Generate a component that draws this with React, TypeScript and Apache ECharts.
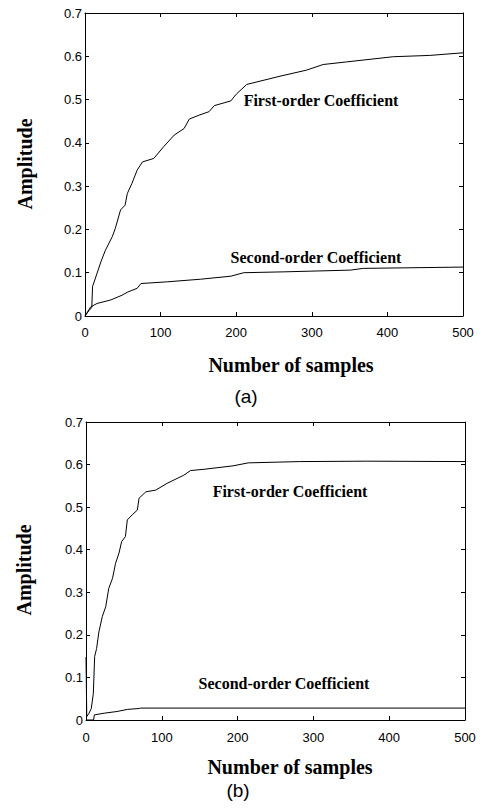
import React, { useEffect, useRef } from "react";
import * as echarts from "echarts";

// Sample index ticks and amplitude ticks shared by both panels
const sampleTicks = [0, 100, 200, 300, 400, 500];
const amplitudeTicks = [0, 0.1, 0.2, 0.3, 0.4, 0.5, 0.6, 0.7];

// Panel (a): coefficient amplitude vs. number of samples
const firstOrderA: [number, number][] = [
  [0, 0], [5, 0.012], [9, 0.02], [10, 0.068], [16, 0.099], [21, 0.125], [27, 0.152],
  [36, 0.183], [40, 0.202], [47, 0.245], [53, 0.256], [56, 0.283], [62, 0.306],
  [69, 0.337], [76, 0.356], [91, 0.364], [104, 0.391], [118, 0.418], [131, 0.433],
  [138, 0.455], [151, 0.464], [164, 0.472], [171, 0.486], [193, 0.497], [197, 0.506],
  [201, 0.514], [214, 0.535], [258, 0.554], [293, 0.568], [315, 0.581], [346, 0.587],
  [408, 0.599], [456, 0.602], [500, 0.608],
];
const secondOrderA: [number, number][] = [
  [0, 0], [7.5, 0.021], [16, 0.029], [34, 0.037], [49, 0.048], [56, 0.055], [69, 0.064],
  [74, 0.075], [109, 0.079], [153, 0.085], [193, 0.092], [210, 0.1], [263, 0.102],
  [351, 0.106], [368, 0.11], [500, 0.113],
];

// Panel (b): coefficient amplitude vs. number of samples
const firstOrderB: [number, number][] = [
  [0, 0.148], [1, 0.008], [4, 0.016], [7, 0.027], [9.7, 0.063], [11.4, 0.149], [14, 0.168],
  [17, 0.207], [21.5, 0.243], [26, 0.266], [30, 0.309], [35, 0.333], [39, 0.368],
  [43.5, 0.392], [47, 0.419], [52, 0.431], [54.5, 0.47], [61, 0.482], [67.7, 0.493],
  [70, 0.521], [79, 0.536], [92, 0.54], [107, 0.556], [129, 0.575], [138, 0.586],
  [156, 0.589], [194, 0.597], [214, 0.604], [282, 0.607], [370, 0.608], [500, 0.607],
];
const secondOrderB: [number, number][] = [
  [0, 0], [10, 0], [11, 0.012], [24, 0.016], [41, 0.02], [55, 0.025], [70, 0.027],
  [72, 0.028], [500, 0.028],
];

const seriesNames = ["First-order Coefficient", "Second-order Coefficient"];
const xTitle = "Number of samples";
const yTitle = "Amplitude";
const panelTags = ["(a)", "(b)"];

const SANS = "'Liberation Sans', Arial, sans-serif";
const SERIF = "'Liberation Serif', 'Times New Roman', serif";

export default function App() {
  const ref = useRef<HTMLDivElement>(null);

  useEffect(() => {
    if (!ref.current) return;
    const chart = echarts.init(ref.current, undefined, { renderer: "svg" });

    const xMin = sampleTicks[0];
    const xMax = sampleTicks[sampleTicks.length - 1];
    const xStep = sampleTicks[1] - sampleTicks[0];
    const yMin = amplitudeTicks[0];
    const yMax = amplitudeTicks[amplitudeTicks.length - 1];
    const yStep = 0.1;

    const tick = { show: true, inside: true, length: 4, lineStyle: { color: "#000", width: 1 } };
    const line = { show: true, onZero: false, lineStyle: { color: "#000", width: 1 } };

    const xAxes: any[] = [];
    const yAxes: any[] = [];
    [0, 1].forEach((g) => {
      xAxes.push({
        type: "value", gridIndex: g, position: "bottom", min: xMin, max: xMax, interval: xStep,
        axisLine: line, axisTick: tick, splitLine: { show: false },
        axisLabel: { color: "#000", fontFamily: SANS, fontSize: 13, margin: g === 0 ? 10 : 11 },
      });
      xAxes.push({
        type: "value", gridIndex: g, position: "top", min: xMin, max: xMax, interval: xStep,
        axisLine: line, axisTick: tick, splitLine: { show: false }, axisLabel: { show: false },
      });
      yAxes.push({
        type: "value", gridIndex: g, position: "left", min: yMin, max: yMax, interval: yStep,
        axisLine: line, axisTick: tick, splitLine: { show: false },
        axisLabel: { color: "#000", fontFamily: SANS, fontSize: 13, margin: 3 },
      });
      yAxes.push({
        type: "value", gridIndex: g, position: "right", min: yMin, max: yMax, interval: yStep,
        axisLine: line, axisTick: tick, splitLine: { show: false }, axisLabel: { show: false },
      });
    });

    const mkLine = (name: string, data: [number, number][], axis: number) => ({
      name, type: "line", data, xAxisIndex: axis, yAxisIndex: axis,
      showSymbol: false, symbol: "none", lineStyle: { color: "#000", width: 1 },
      emphasis: { disabled: true },
    });

    const txt = (text: string, x: number, y: number, font: string, size: number, bold: boolean, rotation = 0) => ({
      type: "text", x, y, rotation,
      style: {
        text, fill: "#000", fontFamily: font, fontSize: size, fontWeight: bold ? "bold" : "normal",
        textAlign: "center", textVerticalAlign: "middle",
      },
    });

    chart.setOption({
      animation: false,
      backgroundColor: "#fff",
      grid: [
        { left: 85, top: 13, width: 378, height: 303 },
        { left: 86, top: 422, width: 379, height: 298 },
      ],
      xAxis: xAxes,
      yAxis: yAxes,
      series: [
        mkLine(seriesNames[0], firstOrderA, 0),
        mkLine(seriesNames[1], secondOrderA, 0),
        mkLine(seriesNames[0], firstOrderB, 2),
        mkLine(seriesNames[1], secondOrderB, 2),
      ],
      graphic: [
        txt(yTitle, 25, 164, SERIF, 20, true, Math.PI / 2),
        txt(xTitle, 291, 365, SERIF, 20, true),
        txt(panelTags[0], 246, 396, SANS, 19, false),
        txt(seriesNames[0], 321, 100, SERIF, 16, true),
        txt(seriesNames[1], 316, 257, SERIF, 16, true),
        txt(yTitle, 24, 570, SERIF, 20, true, Math.PI / 2),
        txt(xTitle, 290, 767, SERIF, 20, true),
        txt(panelTags[1], 238, 790, SANS, 19, false),
        txt(seriesNames[0], 290, 491, SERIF, 16, true),
        txt(seriesNames[1], 284, 683, SERIF, 16, true),
      ],
    });

    return () => chart.dispose();
  }, []);

  return (
    <div
      ref={ref}
      style={{ position: "absolute", left: 0, top: 0, width: 484, height: 810, background: "#fff" }}
    />
  );
}
